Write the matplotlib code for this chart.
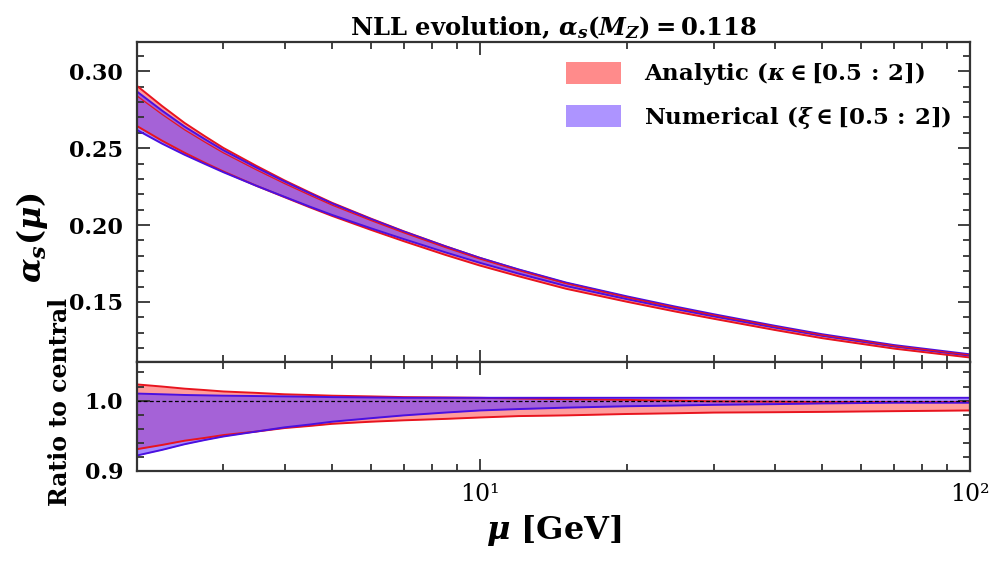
import matplotlib
matplotlib.use("Agg")
import matplotlib.pyplot as plt
import numpy as np
from matplotlib.patches import Patch
from matplotlib.ticker import MultipleLocator, FixedLocator, NullFormatter

# scale mu [GeV]
MU = [2.0, 2.25, 2.5, 2.75, 3.0, 3.5, 4.0, 4.5, 5.0, 6.0, 7.0, 8.5,
      10.0, 12.0, 15.0, 20.0, 25.0, 30.0, 40.0, 50.0, 70.0, 100.0]
# central NLL alpha_s(mu)
ALPHA_CENTRAL = [0.284, 0.272, 0.262, 0.254, 0.247, 0.236, 0.227, 0.2195, 0.213, 0.203, 0.195, 0.1855,
                 0.178, 0.1705, 0.162, 0.153, 0.1465, 0.1415, 0.134, 0.1285, 0.1215, 0.1155]

# band edges, as ratio to central
ANALYTIC_HI = [1.023, 1.020, 1.017, 1.015, 1.013, 1.011, 1.009, 1.008, 1.007, 1.006, 1.005, 1.0045,
               1.004, 1.003, 1.002, 1.001, 1.000, 0.999, 0.9985, 0.998, 0.998, 0.998]
ANALYTIC_LO = [0.931, 0.937, 0.943, 0.947, 0.951, 0.956, 0.961, 0.964, 0.967, 0.970, 0.972, 0.974,
               0.976, 0.978, 0.979, 0.981, 0.982, 0.983, 0.9835, 0.984, 0.985, 0.986]
NUMERIC_HI = [1.010, 1.009, 1.008, 1.0075, 1.007, 1.0065, 1.006, 1.0055, 1.005, 1.0045, 1.004, 1.004,
              1.004, 1.004, 1.004, 1.004, 1.004, 1.004, 1.004, 1.004, 1.004, 1.004]
NUMERIC_LO = [0.922, 0.930, 0.938, 0.944, 0.949, 0.956, 0.962, 0.966, 0.970, 0.975, 0.979, 0.983,
              0.986, 0.988, 0.990, 0.992, 0.993, 0.994, 0.995, 0.996, 0.997, 0.997]

RED_FILL = "#ff5a5a"
RED_EDGE = "#e8141e"
BLUE_FILL = "#6a3cff"
BLUE_EDGE = "#4a10e0"

plt.rcParams.update({
    "font.family": "DejaVu Serif",
    "font.weight": "bold",
    "axes.titleweight": "bold",
    "axes.labelweight": "bold",
    "mathtext.fontset": "custom",
    "mathtext.rm": "DejaVu Serif:bold",
    "mathtext.bf": "DejaVu Serif:bold",
    "mathtext.it": "DejaVu Serif:italic:bold",
    "mathtext.sf": "DejaVu Serif",
    "axes.linewidth": 1.6,
    "axes.edgecolor": "#333333",
})


def style_axis(ax):
    ax.set_xscale("log")
    ax.set_xlim(2, 100)
    ax.tick_params(which="both", direction="in", top=True, right=True,
                   color="#333333", width=1.3)
    ax.tick_params(which="major", length=9, labelsize=16, pad=10)
    ax.tick_params(which="minor", length=5)


def main():
    mu = np.array(MU)
    central = np.array(ALPHA_CENTRAL)
    bands = [
        (np.array(ANALYTIC_LO), np.array(ANALYTIC_HI), RED_FILL, RED_EDGE),
        (np.array(NUMERIC_LO), np.array(NUMERIC_HI), BLUE_FILL, BLUE_EDGE),
    ]

    fig = plt.figure(figsize=(10.04, 5.62), dpi=100)
    ax = fig.add_axes([0.1365, 0.356, 0.8295, 0.569])
    rax = fig.add_axes([0.1365, 0.162, 0.8295, 0.194], sharex=ax)

    for lo, hi, fill, edge in bands:
        ax.fill_between(mu, central * lo, central * hi, color=fill, alpha=0.6, lw=0)
        ax.plot(mu, central * lo, color=edge, lw=1.4)
        ax.plot(mu, central * hi, color=edge, lw=1.4)
        rax.fill_between(mu, lo, hi, color=fill, alpha=0.6, lw=0)
        rax.plot(mu, lo, color=edge, lw=1.4)
        rax.plot(mu, hi, color=edge, lw=1.4)
    ax.plot(mu, central, color=RED_EDGE, lw=0.9)
    rax.axhline(1.0, color="black", lw=0.9, ls=(0, (3, 2)))

    style_axis(ax)
    style_axis(rax)

    ax.set_ylim(0.111, 0.319)
    ax.yaxis.set_major_locator(FixedLocator([0.15, 0.20, 0.25, 0.30]))
    ax.yaxis.set_minor_locator(MultipleLocator(0.01))
    ax.set_yticklabels(["0.15", "0.20", "0.25", "0.30"])
    ax.tick_params(labelbottom=False)
    ax.set_ylabel(r"$\alpha_s(\mu)$", fontsize=23)
    ax.yaxis.set_label_coords(-0.105, 0.39)
    ax.set_title(r"NLL evolution, $\alpha_s(M_Z) = 0.118$", fontsize=17.5, pad=5)

    rax.set_ylim(0.9, 1.055)
    rax.yaxis.set_major_locator(FixedLocator([0.9, 1.0]))
    rax.yaxis.set_minor_locator(MultipleLocator(0.02))
    rax.set_yticklabels(["0.9", "1.0"])
    rax.set_ylabel("Ratio to central", fontsize=17)
    rax.yaxis.set_label_coords(-0.078, 0.63)
    rax.xaxis.set_major_locator(FixedLocator([10, 100]))
    rax.set_xticklabels(["10\u00b9", "10\u00b2"], fontweight="normal")
    rax.xaxis.set_minor_formatter(NullFormatter())
    rax.tick_params(axis="x", labelsize=17, pad=9)
    rax.set_xlabel(r"$\mu$ [GeV]", fontsize=23, labelpad=5)

    handles = [
        Patch(facecolor=RED_FILL, alpha=0.7, lw=0),
        Patch(facecolor=BLUE_FILL, alpha=0.55, lw=0),
    ]
    labels = [r"Analytic ($\kappa \in [0.5\,:\,2]$)", r"Numerical ($\xi \in [0.5\,:\,2]$)"]
    ax.legend(handles, labels, loc="upper right", frameon=False, fontsize=16.5,
              handlelength=2.4, handleheight=1.1, handletextpad=1.0,
              borderaxespad=0.4, labelspacing=0.7)

    fig.savefig("out.png", dpi=100)


if __name__ == "__main__":
    main()
